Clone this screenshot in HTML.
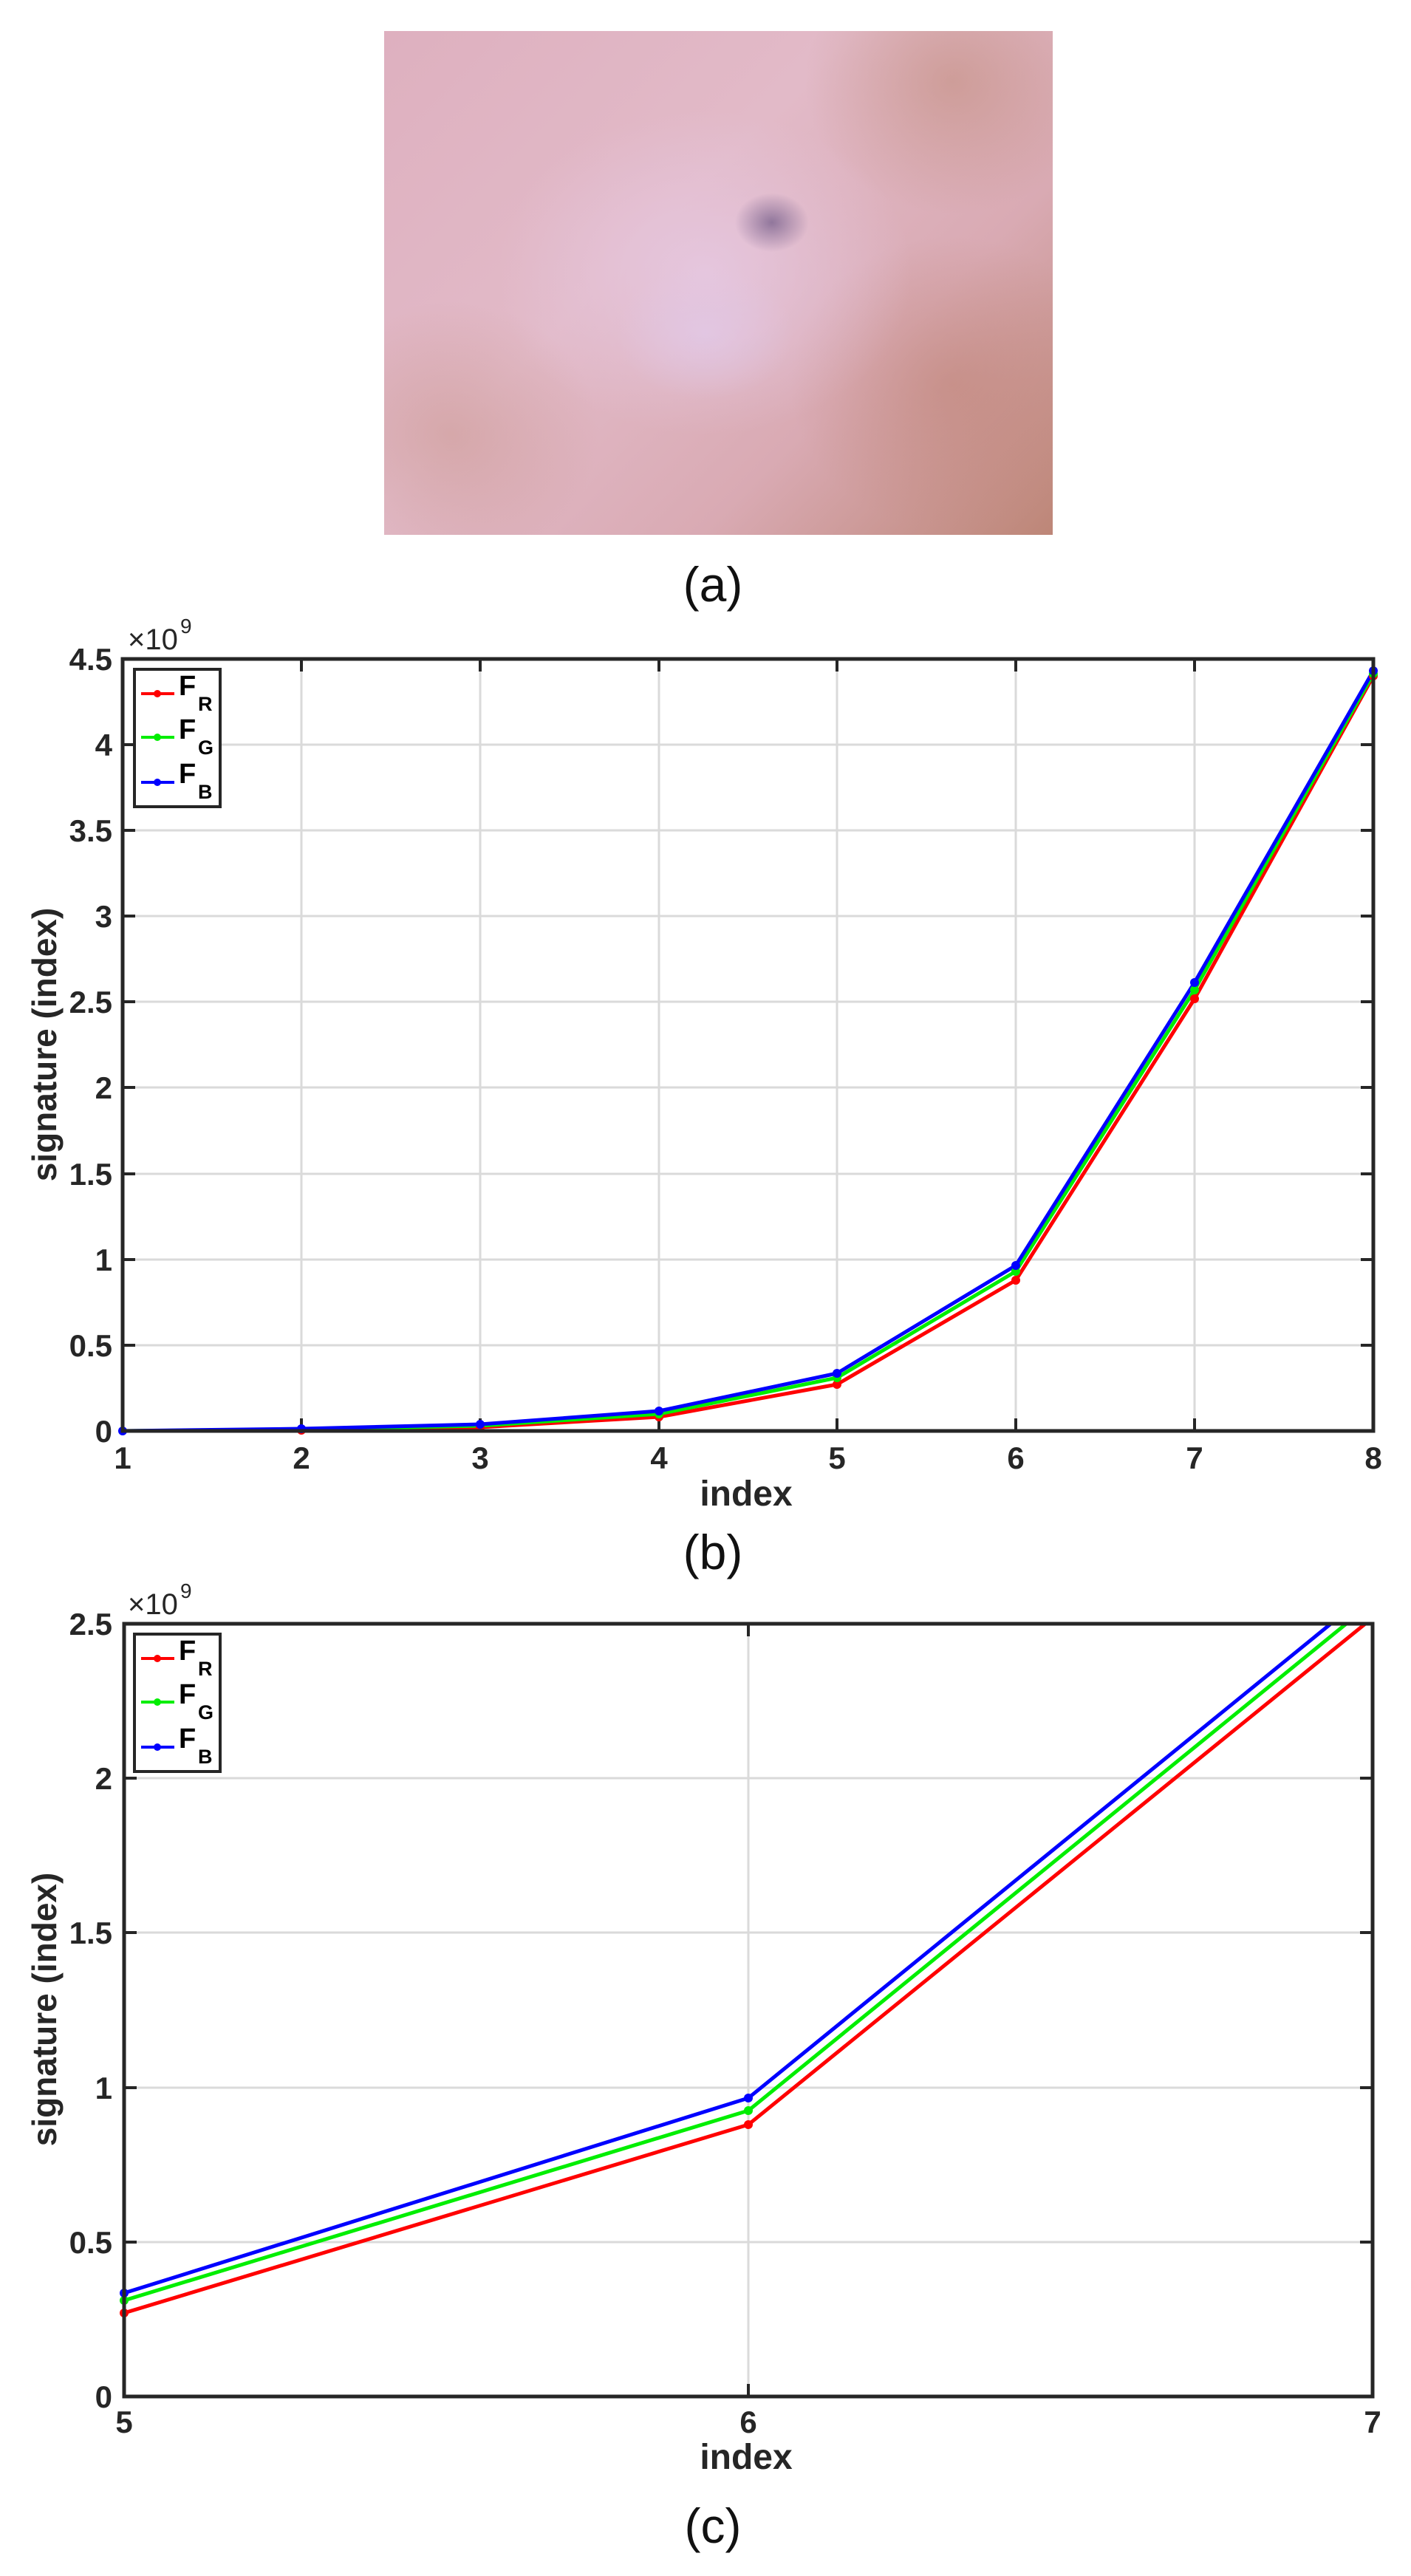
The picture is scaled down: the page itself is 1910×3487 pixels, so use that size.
<!DOCTYPE html>
<html><head><meta charset="utf-8"><style>
html,body{margin:0;padding:0;background:#fff;}
body{width:1910px;height:3487px;position:relative;overflow:hidden;}
.photo{position:absolute;left:520px;top:42px;width:905px;height:682px;
background:
radial-gradient(ellipse 120px 90px at 48% 60%, rgba(225,200,230,0.8), rgba(225,200,230,0) 100%),
radial-gradient(ellipse 50px 40px at 58% 38%, rgba(90,70,120,0.6), rgba(90,70,120,0) 100%),
radial-gradient(ellipse 280px 220px at 48% 48%, rgba(230,200,225,0.9), rgba(230,200,225,0) 100%),
radial-gradient(ellipse 200px 180px at 85% 10%, rgba(190,135,115,0.5), rgba(190,135,115,0) 100%),
radial-gradient(ellipse 220px 200px at 85% 70%, rgba(190,130,115,0.5), rgba(190,130,115,0) 100%),
radial-gradient(ellipse 200px 180px at 10% 80%, rgba(195,140,125,0.4), rgba(195,140,125,0) 100%),
linear-gradient(135deg,#deb0bf 0%,#e2bac8 40%,#d9aab3 70%,#bd8677 100%);}
svg{position:absolute;left:0;top:0;}
text{font-family:"Liberation Sans",sans-serif;}
</style></head><body>
<div class="photo"></div>
<svg width="1910" height="3487" viewBox="0 0 1910 3487">
<text x="965" y="814" font-size="66" text-anchor="middle" fill="#111">(a)</text>
<text x="965" y="2124" font-size="66" text-anchor="middle" fill="#111">(b)</text>
<text x="965" y="3442" font-size="66" text-anchor="middle" fill="#111">(c)</text>

<!-- Plot B -->
<g>
<g stroke="#dadada" stroke-width="3">
<line x1="408" y1="892" x2="408" y2="1937"/><line x1="650" y1="892" x2="650" y2="1937"/>
<line x1="892" y1="892" x2="892" y2="1937"/><line x1="1133" y1="892" x2="1133" y2="1937"/>
<line x1="1375" y1="892" x2="1375" y2="1937"/><line x1="1617" y1="892" x2="1617" y2="1937"/>
<line x1="166" y1="1008" x2="1859" y2="1008"/><line x1="166" y1="1124" x2="1859" y2="1124"/>
<line x1="166" y1="1240" x2="1859" y2="1240"/><line x1="166" y1="1356" x2="1859" y2="1356"/>
<line x1="166" y1="1472" x2="1859" y2="1472"/><line x1="166" y1="1589" x2="1859" y2="1589"/>
<line x1="166" y1="1705" x2="1859" y2="1705"/><line x1="166" y1="1821" x2="1859" y2="1821"/>
</g>
<g stroke="#262626" stroke-width="4">
<path d="M408 892v17M650 892v17M892 892v17M1133 892v17M1375 892v17M1617 892v17M408 1937v-17M650 1937v-17M892 1937v-17M1133 1937v-17M1375 1937v-17M1617 1937v-17"/>
<path d="M166 1008h17M166 1124h17M166 1240h17M166 1356h17M166 1472h17M166 1589h17M166 1705h17M166 1821h17M1859 1008h-17M1859 1124h-17M1859 1240h-17M1859 1356h-17M1859 1472h-17M1859 1589h-17M1859 1705h-17M1859 1821h-17"/>
</g>
<g fill="none" stroke-width="5" stroke-linejoin="round">
<polyline stroke="#f00" points="166,1937 408,1936 650,1932 892,1918 1133,1874 1375,1733 1617,1352 1859,915"/>
<polyline stroke="#0e0" points="166,1937 408,1935 650,1930 892,1914 1133,1865 1375,1721 1617,1340 1859,912"/>
<polyline stroke="#00f" points="166,1937 408,1934 650,1928 892,1910 1133,1859 1375,1713 1617,1330 1859,908"/>
</g>
<g fill="#f00"><circle cx="408" cy="1936" r="6"/><circle cx="650" cy="1932" r="6"/><circle cx="892" cy="1918" r="6"/><circle cx="1133" cy="1874" r="6"/><circle cx="1375" cy="1733" r="6"/><circle cx="1617" cy="1352" r="6"/><circle cx="1859" cy="915" r="6"/></g>
<g fill="#0e0"><circle cx="892" cy="1914" r="6"/><circle cx="1133" cy="1865" r="6"/><circle cx="1375" cy="1721" r="6"/><circle cx="1617" cy="1340" r="6"/><circle cx="1859" cy="912" r="6"/></g>
<g fill="#00f"><circle cx="166" cy="1937" r="6"/><circle cx="408" cy="1934" r="6"/><circle cx="650" cy="1928" r="6"/><circle cx="892" cy="1910" r="6"/><circle cx="1133" cy="1859" r="6"/><circle cx="1375" cy="1713" r="6"/><circle cx="1617" cy="1330" r="6"/><circle cx="1859" cy="908" r="6"/></g>
<rect x="166" y="892" width="1693" height="1045" fill="none" stroke="#262626" stroke-width="5"/>
<rect x="182" y="906" width="116" height="186" fill="#fff" stroke="#262626" stroke-width="4"/>
<g stroke-width="4"><line x1="191" y1="939" x2="236" y2="939" stroke="#f00"/><line x1="191" y1="998" x2="236" y2="998" stroke="#0e0"/><line x1="191" y1="1059" x2="236" y2="1059" stroke="#00f"/></g>
<circle cx="213" cy="939" r="5" fill="#f00"/><circle cx="213" cy="998" r="5" fill="#0e0"/><circle cx="213" cy="1059" r="5" fill="#00f"/>
<g font-weight="bold" fill="#000">
<text x="242" y="941" font-size="38">F</text><text x="268" y="962" font-size="27">R</text>
<text x="242" y="1000" font-size="38">F</text><text x="268" y="1021" font-size="27">G</text>
<text x="242" y="1060" font-size="38">F</text><text x="268" y="1081" font-size="27">B</text>
</g>
<g font-size="42" font-weight="bold" fill="#262626" text-anchor="end">
<text x="152" y="907">4.5</text><text x="152" y="1023">4</text><text x="152" y="1139">3.5</text><text x="152" y="1255">3</text><text x="152" y="1371">2.5</text><text x="152" y="1487">2</text><text x="152" y="1604">1.5</text><text x="152" y="1720">1</text><text x="152" y="1836">0.5</text><text x="152" y="1952">0</text>
</g>
<g font-size="42" font-weight="bold" fill="#262626" text-anchor="middle">
<text x="166" y="1988">1</text><text x="408" y="1988">2</text><text x="650" y="1988">3</text><text x="892" y="1988">4</text><text x="1133" y="1988">5</text><text x="1375" y="1988">6</text><text x="1617" y="1988">7</text><text x="1859" y="1988">8</text>
<text x="1010" y="2038" font-size="48">index</text>
</g>
<text x="173" y="879" font-size="40" fill="#262626">×10</text><text x="244" y="857" font-size="28" fill="#262626">9</text>
<text transform="translate(76,1414) rotate(-90)" font-size="46" font-weight="bold" fill="#262626" text-anchor="middle">signature (index)</text>
</g>

<!-- Plot C -->
<g>
<defs><clipPath id="cc"><rect x="168" y="2198" width="1690" height="1046"/></clipPath></defs>
<g stroke="#dadada" stroke-width="3">
<line x1="1013" y1="2198" x2="1013" y2="3244"/>
<line x1="168" y1="2407" x2="1858" y2="2407"/><line x1="168" y1="2616" x2="1858" y2="2616"/>
<line x1="168" y1="2826" x2="1858" y2="2826"/><line x1="168" y1="3035" x2="1858" y2="3035"/>
</g>
<g stroke="#262626" stroke-width="4">
<path d="M1013 2198v17M1013 3244v-17M168 2407h17M168 2616h17M168 2826h17M168 3035h17M1858 2407h-17M1858 2616h-17M1858 2826h-17M1858 3035h-17"/>
</g>
<g clip-path="url(#cc)" fill="none" stroke-width="5">
<polyline stroke="#f00" points="168,3131 1013,2876 1858,2190"/>
<polyline stroke="#0e0" points="168,3114 1013,2857 1858,2169"/>
<polyline stroke="#00f" points="168,3104 1013,2840 1858,2152"/>
</g>
<circle cx="168" cy="3131" r="6" fill="#f00"/><circle cx="1013" cy="2876" r="6" fill="#f00"/>
<circle cx="168" cy="3114" r="6" fill="#0e0"/><circle cx="1013" cy="2857" r="6" fill="#0e0"/>
<circle cx="168" cy="3104" r="6" fill="#00f"/><circle cx="1013" cy="2840" r="6" fill="#00f"/>
<rect x="168" y="2198" width="1690" height="1046" fill="none" stroke="#262626" stroke-width="5"/>
<rect x="182" y="2212" width="116" height="186" fill="#fff" stroke="#262626" stroke-width="4"/>
<g stroke-width="4"><line x1="191" y1="2245" x2="236" y2="2245" stroke="#f00"/><line x1="191" y1="2304" x2="236" y2="2304" stroke="#0e0"/><line x1="191" y1="2365" x2="236" y2="2365" stroke="#00f"/></g>
<circle cx="213" cy="2245" r="5" fill="#f00"/><circle cx="213" cy="2304" r="5" fill="#0e0"/><circle cx="213" cy="2365" r="5" fill="#00f"/>
<g font-weight="bold" fill="#000">
<text x="242" y="2247" font-size="38">F</text><text x="268" y="2268" font-size="27">R</text>
<text x="242" y="2306" font-size="38">F</text><text x="268" y="2327" font-size="27">G</text>
<text x="242" y="2366" font-size="38">F</text><text x="268" y="2387" font-size="27">B</text>
</g>
<g font-size="42" font-weight="bold" fill="#262626" text-anchor="end">
<text x="152" y="2213">2.5</text><text x="152" y="2422">2</text><text x="152" y="2631">1.5</text><text x="152" y="2841">1</text><text x="152" y="3050">0.5</text><text x="152" y="3259">0</text>
</g>
<g font-size="42" font-weight="bold" fill="#262626" text-anchor="middle">
<text x="168" y="3293">5</text><text x="1013" y="3293">6</text><text x="1858" y="3293">7</text>
<text x="1010" y="3342" font-size="48">index</text>
</g>
<text x="173" y="2185" font-size="40" fill="#262626">×10</text><text x="244" y="2163" font-size="28" fill="#262626">9</text>
<text transform="translate(76,2720) rotate(-90)" font-size="46" font-weight="bold" fill="#262626" text-anchor="middle">signature (index)</text>
</g>
</svg>
</body></html>
